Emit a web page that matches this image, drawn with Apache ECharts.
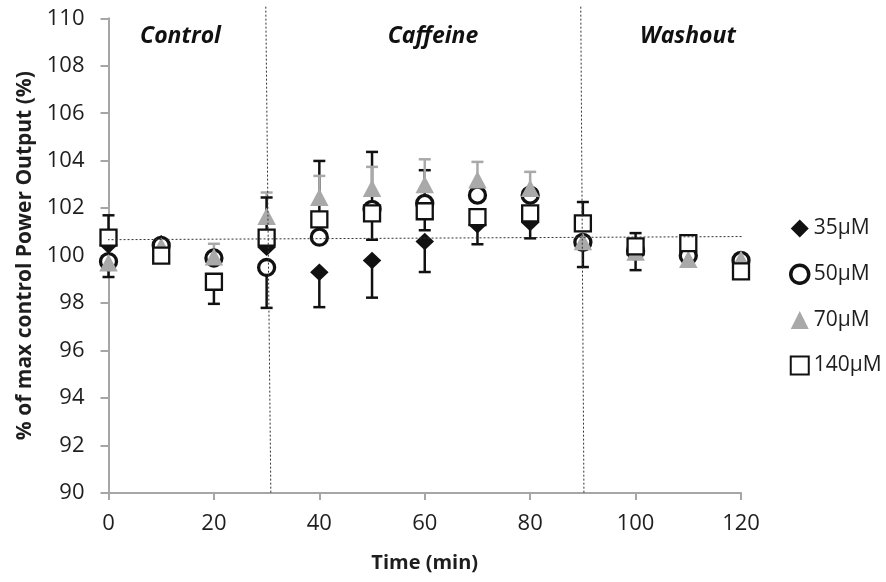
<!DOCTYPE html>
<html>
<head>
<meta charset="utf-8">
<script src="https://cdn.jsdelivr.net/npm/echarts@6/dist/echarts.min.js"></script>
<style>
  html, body { margin: 0; padding: 0; background: #fff; }
  #chart { width: 886px; height: 582px; }
</style>
</head>
<body>
<div id="chart"></div>
<script>
// time points (min)
var times = [0, 10, 20, 30, 40, 50, 60, 70, 80, 90, 100, 110, 120];

// % of max control power output
var val35  = [100.45, 100.5, 99.9, 100.35, 99.3, 99.8, 100.6, 101.3, 101.4, 100.6, 100.2, 100.0, 99.8];
var val50  = [99.75, 100.43, 99.9, 99.5, 100.78, 101.95, 102.2, 102.55, 102.55, 100.56, 100.2, 100.0, 99.8];
var val70  = [99.7, 100.4, 99.95, 101.66, 102.46, 102.84, 103.0, 103.2, 102.84, 100.6, 100.15, 99.85, 99.85];
var val140 = [100.76, 100.0, 98.9, 100.76, 101.53, 101.78, 101.87, 101.62, 101.78, 101.36, 100.39, 100.53, 99.34];

// error bars (0 = not drawn)
var up35    = [0, 0, 0, 0, 0, 0, 0, 0, 0, 0, 0, 0, 0];
var down35  = [0, 0, 0, 0, 1.47, 1.57, 1.29, 0.82, 0.67, 1.08, 0, 0, 0];
var up50    = [0, 0, 0, 0, 3.21, 2.42, 1.4, 0, 0, 0, 0, 0, 0];
var down50  = [0.65, 0, 0, 1.7, 0, 0, 0, 0, 0, 0, 0, 0, 0];
var up70    = [0, 0, 0.55, 1.0, 0.9, 0.9, 1.06, 0.75, 0.69, 0, 0, 0, 0];
var down70  = [0, 0, 0, 0, 0, 0, 0, 0, 0, 0, 0, 0, 0];
var up140   = [0.94, 0, 0, 1.69, 0, 0, 0, 0, 0, 0.9, 0.56, 0, 0];
var down140 = [0, 0, 0.93, 0, 0, 1.11, 0.8, 0, 0, 0, 1.0, 0, 0];

// dotted guide lines
var baseLineX = [-1.7, 124.5];
var baseLineY = [100.67, 100.81];
var phase1X = [29.84, 30.8];
var phase2X = [89.6, 90.2];
var phaseY = [110.49, 90];

var phaseNames = ['Control', 'Caffeine', 'Washout'];
var seriesNames = ['35μM', '50μM', '70μM', '140μM'];

var FONT = '"Open Sans", "Noto Sans", sans-serif';
var GREY = '#A9A9A9';
var AXIS = '#A6A6A6';
var INK = '#1e1e1e';

function pairs(xs, ys) {
  var out = [];
  for (var i = 0; i < xs.length; i++) out.push([xs[i], ys[i]]);
  return out;
}

// build [x, lo, hi, capAtTop] rows
function errRows(vals, up, down) {
  var rows = [];
  for (var i = 0; i < times.length; i++) {
    if (up[i] > 0) rows.push([times[i], vals[i], vals[i] + up[i], 1]);
    if (down[i] > 0) rows.push([times[i], vals[i] - down[i], vals[i], 0]);
  }
  return rows;
}

function errSeries(name, vals, up, down, color) {
  return {
    name: name + ' err',
    type: 'custom',
    data: errRows(vals, up, down),
    clip: false,
    renderItem: function(params, api) {
      var p1 = api.coord([api.value(0), api.value(1)]);
      var p2 = api.coord([api.value(0), api.value(2)]);
      var capY = api.value(3) ? p2[1] : p1[1];
      var st = { stroke: color, lineWidth: 2.5 };
      return {
        type: 'group',
        children: [
          { type: 'line', shape: { x1: p1[0], y1: p1[1], x2: p2[0], y2: p2[1] }, style: st },
          { type: 'line', shape: { x1: p1[0] - 6, y1: capY, x2: p1[0] + 6, y2: capY }, style: st }
        ]
      };
    }
  };
}

function guide(xs, ys) {
  return {
    type: 'line',
    data: pairs(xs, ys),
    symbol: 'none',
    clip: false,
    silent: true,
    lineStyle: { color: '#333', width: 1, type: [2, 2] }
  };
}

function phaseText(txt, cx) {
  return {
    type: 'text', x: cx, y: 36,
    style: { text: txt, align: 'center', verticalAlign: 'middle',
             font: 'italic bold 23px ' + FONT, fill: '#111' }
  };
}

var myChart = echarts.init(document.getElementById('chart'));

var option = {
  animation: false,
  backgroundColor: '#fff',
  grid: { left: 108.5, right: 145, top: 18.3, bottom: 89 },
  textStyle: { fontFamily: FONT },
  legend: {
    orient: 'vertical',
    left: 784,
    top: 213,
    itemGap: 24.5,
    itemWidth: 18,
    itemHeight: 18,
    data: [
      { name: seriesNames[0], icon: 'diamond', itemStyle: { color: '#111', borderWidth: 0 } },
      { name: seriesNames[1], icon: 'circle', itemStyle: { color: '#fff', borderColor: '#111', borderWidth: 3.5 } },
      { name: seriesNames[2], icon: 'triangle', itemStyle: { color: GREY, borderWidth: 0 } },
      { name: seriesNames[3], icon: 'rect', itemStyle: { color: '#fff', borderColor: '#111', borderWidth: 2 } }
    ],
    textStyle: { fontSize: 21, color: INK, fontFamily: FONT }
  },
  xAxis: {
    type: 'value',
    min: 0,
    max: 120,
    interval: 20,
    name: 'Time (min)',
    nameLocation: 'middle',
    nameGap: 60,
    nameTextStyle: { fontSize: 20, fontWeight: 'bold', color: INK, fontFamily: FONT },
    splitLine: { show: false },
    axisLine: { lineStyle: { color: AXIS, width: 2 } },
    axisTick: { length: 7, lineStyle: { color: AXIS, width: 2 } },
    axisLabel: { fontSize: 22, color: INK, margin: 20, fontFamily: FONT }
  },
  yAxis: {
    type: 'value',
    min: 90,
    max: 110,
    interval: 2,
    name: '% of max control Power Output (%)',
    nameLocation: 'middle',
    nameGap: 71,
    nameTextStyle: { fontSize: 21, fontWeight: 'bold', color: INK, fontFamily: FONT },
    splitLine: { show: false },
    axisLine: { show: true, lineStyle: { color: AXIS, width: 2 } },
    axisTick: { show: true, length: 8, lineStyle: { color: AXIS, width: 2 } },
    axisLabel: { fontSize: 22, color: INK, margin: 24, fontFamily: FONT }
  },
  graphic: [
    phaseText(phaseNames[0], 180.5),
    phaseText(phaseNames[1], 433),
    phaseText(phaseNames[2], 688)
  ],
  series: [
    guide(baseLineX, baseLineY),
    guide(phase1X, phaseY),
    guide(phase2X, phaseY),
    errSeries('35μM', val35, up35, down35, '#111'),
    {
      name: '35μM', type: 'scatter', symbol: 'diamond', symbolSize: [18.5, 17.5],
      data: pairs(times, val35),
      itemStyle: { color: '#111', opacity: 1 }
    },
    errSeries('50μM', val50, up50, down50, '#111'),
    {
      name: '50μM', type: 'scatter', symbol: 'circle', symbolSize: 16,
      data: pairs(times, val50),
      itemStyle: { color: '#fff', borderColor: '#111', borderWidth: 3.3, opacity: 1 }
    },
    errSeries('70μM', val70, up70, down70, GREY),
    {
      name: '70μM', type: 'scatter', symbol: 'triangle', symbolSize: [18.5, 17.5],
      data: pairs(times, val70),
      itemStyle: { color: GREY, opacity: 1 }
    },
    errSeries('140μM', val140, up140, down140, '#111'),
    {
      name: '140μM', type: 'scatter', symbol: 'rect', symbolSize: 16,
      data: pairs(times, val140),
      itemStyle: { color: '#fff', borderColor: '#111', borderWidth: 2.3, opacity: 1 }
    }
  ]
};

myChart.setOption(option);
</script>
</body>
</html>
